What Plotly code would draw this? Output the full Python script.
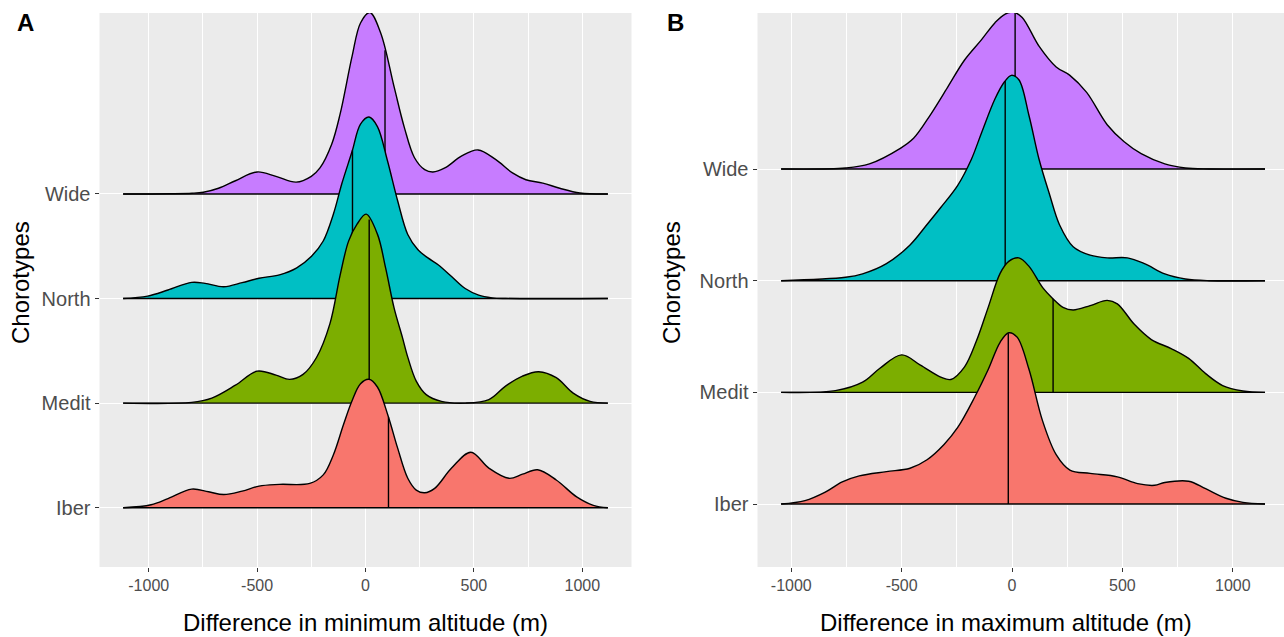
import numpy as np
import plotly.graph_objects as go

# ---------------- data ----------------
categories = ["Iber", "Medit", "North", "Wide"]
fill_colors = {"Wide": "#C77CFF", "North": "#00BFC4", "Medit": "#7CAE00", "Iber": "#F8766D"}

# Panel A: difference in minimum altitude (m) -- relative density heights
a_wide_x = [-1118, -900, -800, -748, -678, -600, -500, -413, -320, -250, -210, -156, -117, -62, -23, 20, 70, 132, 179, 226, 273, 311, 366, 444, 519, 600, 678, 740, 818, 896, 989, 1118]
a_wide_d = [0, 0.2, 0.7, 1.7, 5.7, 13.2, 22, 17.6, 11.8, 17.6, 26, 49.7, 80, 137.5, 171, 181.5, 161, 107, 66.6, 36.2, 24.3, 22, 26, 38, 44, 34.5, 21, 14.2, 10.8, 5.7, 1, 0]
a_north_x = [-1118, -1005, -911, -802, -740, -654, -569, -491, -397, -319, -249, -195, -148, -109, -62, -23, 16, 55, 101, 148, 195, 241, 288, 335, 397, 460, 522, 584, 646, 1118]
a_north_d = [0, 2.4, 8.5, 16.2, 15.2, 11.8, 15.9, 20.3, 23.7, 30.4, 42.3, 57.5, 84.5, 115, 147, 174.4, 181.5, 172, 138, 98, 64, 49, 40.6, 33.8, 22, 10, 3.4, 0.7, 0, 0]
a_medit_x = [-1118, -802, -709, -600, -500, -413, -350, -288, -226, -164, -117, -78, -39, 3, 55, 93, 132, 170, 195, 234, 280, 350, 460, 569, 646, 724, 799, 880, 958, 1036, 1118]
a_medit_d = [0, 0.7, 5, 17.9, 32, 28, 23.7, 28.7, 45.6, 79.5, 128, 162, 179, 189, 169, 135, 95, 66, 46, 22, 8.5, 1.7, 0, 3.4, 17, 27, 31.4, 25.4, 10, 1.7, 0]
a_iber_x = [-1118, -989, -911, -802, -724, -654, -569, -491, -397, -257, -195, -148, -101, -62, -23, 16, 55, 104, 148, 195, 234, 273, 319, 397, 486, 569, 662, 724, 794, 880, 974, 1051, 1118]
a_iber_d = [0, 3, 9.1, 18.6, 15.9, 13.2, 16.6, 21.6, 23.3, 24.3, 32.8, 53, 83.5, 107, 124, 128.4, 120.7, 92, 59.8, 29.4, 17.6, 14.9, 19.3, 39.6, 55.5, 39.6, 29.4, 33.5, 37.9, 27.7, 10.8, 2.4, 0]
a_medians = {"Wide": 90, "North": -60, "Medit": 17, "Iber": 106}

# Panel B: difference in maximum altitude (m) -- relative density heights
b_wide_x = [-1046, -754, -646, -508, -446, -369, -292, -215, -138, -77, -31, 8, 46, 123, 200, 262, 338, 431, 508, 585, 692, 785, 892, 1146]
b_wide_d = [0, 1, 5.1, 20.4, 30.7, 54.5, 81.7, 109, 129.4, 146.4, 155, 156.7, 151.6, 122.6, 102, 93.7, 76.6, 44.3, 27.2, 15.3, 5.1, 1, 0, 0]
b_north_x = [-1046, -754, -677, -569, -462, -385, -323, -246, -185, -138, -77, -34, -3, 31, 77, 123, 169, 215, 277, 354, 431, 523, 600, 692, 785, 892, 1146]
b_north_d = [0, 3.4, 6.8, 17, 35.8, 56.2, 73.2, 95.4, 121, 148, 182, 199, 205.4, 201, 165, 121, 87, 56, 34, 25.5, 22.8, 22.8, 17, 6.8, 1.7, 0, 0]
b_medit_x = [-1046, -800, -677, -600, -500, -415, -323, -277, -215, -162, -108, -54, -15, 31, 77, 138, 185, 231, 277, 354, 431, 477, 554, 631, 723, 800, 877, 954, 1046, 1146]
b_medit_d = [0, 1.7, 10.2, 23.8, 37.5, 27.2, 15.3, 12.9, 25.5, 51, 85, 119, 131, 134.5, 126, 105, 93.7, 85, 82.4, 86.8, 92, 88.5, 68, 52.8, 43.6, 34, 18.7, 6.8, 1.4, 0]
b_iber_x = [-1046, -938, -846, -769, -692, -569, -462, -385, -308, -246, -169, -108, -54, -15, 23, 77, 138, 200, 262, 354, 477, 569, 646, 692, 800, 877, 969, 1046, 1146]
b_iber_d = [0, 3.4, 11.9, 22.1, 28.1, 32.4, 35.8, 44.3, 59.6, 76.6, 107, 134.5, 161.8, 171.3, 166.9, 134.5, 83.4, 49.4, 34, 30.6, 27.2, 20.4, 18.7, 21.5, 22.8, 15.3, 5.8, 1.7, 0]
b_medians = {"Wide": 14, "North": -31, "Medit": 186, "Iber": -17}

x_ticks = [-1000, -500, 0, 500, 1000]
x_title_a = "Difference in minimum altitude (m)"
x_title_b = "Difference in maximum altitude (m)"
y_title = "Chorotypes"

panel_a = {"Wide": (a_wide_x, a_wide_d), "North": (a_north_x, a_north_d),
           "Medit": (a_medit_x, a_medit_d), "Iber": (a_iber_x, a_iber_d)}
panel_b = {"Wide": (b_wide_x, b_wide_d), "North": (b_north_x, b_north_d),
           "Medit": (b_medit_x, b_medit_d), "Iber": (b_iber_x, b_iber_d)}

# ridge scale: density units -> category spacing
SCALE_A = 1 / 104.6
SCALE_B = 1 / 111.7

W, H = 1284, 637
MT, MB = 13, 70
FONT = "Liberation Sans, Arial, Helvetica, sans-serif"

fig = go.Figure()


def add_panel(panel, medians, scale, xa, ya):
    for cat in ["Wide", "North", "Medit", "Iber"]:
        xs, ds = panel[cat]
        base = categories.index(cat) + 1
        ys = [base + d * scale for d in ds]
        # baseline
        fig.add_trace(go.Scatter(
            x=[xs[0], xs[-1]], y=[base, base], xaxis=xa, yaxis=ya, mode="lines",
            line=dict(color="black", width=1.4), showlegend=False, hoverinfo="skip"))
        # density ridge filled down to the baseline
        fig.add_trace(go.Scatter(
            x=xs, y=ys, xaxis=xa, yaxis=ya, mode="lines", fill="tonexty",
            fillcolor=fill_colors[cat],
            line=dict(color="black", width=1.4, shape="spline", smoothing=1.0),
            showlegend=False, hoverinfo="skip"))
        m = medians[cat]
        top = base + float(np.interp(m, xs, ds)) * scale
        fig.add_trace(go.Scatter(
            x=[m, m], y=[base, top], xaxis=xa, yaxis=ya, mode="lines",
            line=dict(color="black", width=1.4), showlegend=False, hoverinfo="skip"))


add_panel(panel_a, a_medians, SCALE_A, "x", "y")
add_panel(panel_b, b_medians, SCALE_B, "x2", "y2")

xaxis_common = dict(
    tickvals=x_ticks, ticktext=[str(v) for v in x_ticks],
    showgrid=True, gridcolor="white", gridwidth=1.2,
    minor=dict(tickvals=[-750, -250, 250, 750], showgrid=True, gridcolor="white", gridwidth=0.6, ticks=""),
    ticks="outside", ticklen=4, tickwidth=1.1, tickcolor="#333333",
    tickfont=dict(family=FONT, size=16, color="#4D4D4D"),
    zeroline=False, showline=False, fixedrange=True,
)
yaxis_common = dict(
    tickvals=[1, 2, 3, 4], ticktext=categories,
    showgrid=True, gridcolor="white", gridwidth=1.2,
    ticks="outside", ticklen=4, tickwidth=1.1, tickcolor="#333333",
    tickfont=dict(family=FONT, size=20, color="#4D4D4D"),
    zeroline=False, showline=False, fixedrange=True,
)

fig.update_layout(
    width=W, height=H,
    margin=dict(l=0, r=0, t=MT, b=MB, autoexpand=False),
    paper_bgcolor="white", plot_bgcolor="#EBEBEB",
    font=dict(family=FONT),
    xaxis=dict(domain=[99.5 / W, 631.5 / W], range=[-1227, 1227], anchor="y", **xaxis_common),
    yaxis=dict(domain=[0, 1], range=[0.433, 5.73], anchor="x", **yaxis_common),
    xaxis2=dict(domain=[757.5 / W, 1.0], range=[-1153, 1232], anchor="y2", **xaxis_common),
    yaxis2=dict(domain=[0, 1], range=[0.436, 5.397], anchor="x2", **yaxis_common),
    showlegend=False,
)


def py(pix):
    # page pixel (from top) -> paper y coordinate (plot area spans margins)
    return (H - MB - pix) / (H - MT - MB)


annotations = [
    dict(text="<b>A</b>", x=25 / W, y=py(22), font=dict(size=24, color="black")),
    dict(text="<b>B</b>", x=676 / W, y=py(22), font=dict(size=24, color="black")),
    dict(text=y_title, x=20 / W, y=py(283), textangle=-90, font=dict(size=24, color="black")),
    dict(text=y_title, x=671 / W, y=py(283), textangle=-90, font=dict(size=24, color="black")),
    dict(text=x_title_a, x=365 / W, y=py(622), font=dict(size=24, color="black")),
    dict(text=x_title_b, x=1006 / W, y=py(622), font=dict(size=24, color="black")),
]
for a in annotations:
    a.update(xref="paper", yref="paper", showarrow=False, xanchor="center", yanchor="middle")
    a["font"]["family"] = FONT
fig.update_layout(annotations=annotations)

fig.write_html("out.html", config={"displayModeBar": False},
               post_script="document.body.style.margin='0';")
